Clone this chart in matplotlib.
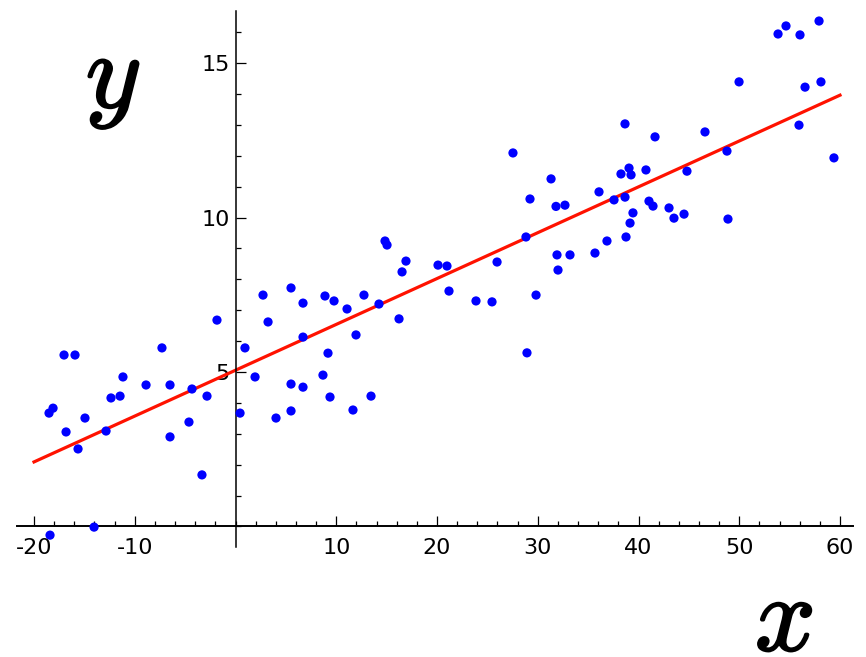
import numpy as np
import matplotlib
matplotlib.use("Agg")
import matplotlib.pyplot as plt
import matplotlib.patheffects as pe
from matplotlib.ticker import MultipleLocator, FixedLocator

plt.rcParams['axes.unicode_minus'] = False
plt.rcParams['mathtext.fontset'] = 'cm'

# scatter data
x_pts = [-18.51, -18.11, -17.02, -15.93, -16.82, -15.63, -14.94, -18.41, -14.04, -12.85,
         -12.36, -11.46, -11.17, -8.88, -7.30, -6.50, -6.50, -4.62, -4.32, -3.33,
         -2.83, -1.84, 0.45, 0.94, 1.94, 2.73, 3.23, 4.02, 5.51, 5.51,
         5.51, 6.70, 6.70, 6.70, 8.68, 8.88, 9.38, 9.18, 9.78, 11.07,
         11.66, 11.96, 12.75, 13.45, 14.24, 14.84, 15.04, 16.23, 16.53, 16.92,
         20.10, 20.99, 21.19, 23.87, 25.46, 25.96, 27.54, 28.83, 28.93, 29.23,
         29.83, 31.32, 31.91, 32.01, 31.81, 32.70, 33.20, 35.68, 36.08, 36.87,
         37.57, 38.26, 38.66, 38.66, 38.76, 39.06, 39.26, 39.16, 39.45, 40.74,
         41.04, 41.44, 41.64, 43.03, 43.52, 44.52, 44.81, 46.60, 48.78, 48.88,
         49.98, 53.85, 54.64, 56.03, 56.53, 57.92, 58.11, 55.93, 59.40]
y_pts = [3.67, 3.83, 5.55, 5.55, 3.06, 2.51, 3.51, -0.28, -0.02, 3.09,
         4.16, 4.22, 4.84, 4.58, 5.78, 4.58, 2.90, 3.38, 4.45, 1.67,
         4.22, 6.68, 3.67, 5.78, 4.84, 7.49, 6.62, 3.51, 7.72, 4.61,
         3.74, 7.23, 6.13, 4.51, 4.90, 7.46, 4.19, 5.61, 7.30, 7.04,
         3.77, 6.20, 7.49, 4.22, 7.20, 9.24, 9.11, 6.72, 8.24, 8.59,
         8.46, 8.43, 7.62, 7.30, 7.27, 8.56, 12.09, 9.37, 5.62, 10.60,
         7.49, 11.25, 8.79, 8.30, 10.36, 10.40, 8.79, 8.85, 10.83, 9.24,
         10.57, 11.41, 13.03, 10.66, 9.37, 11.60, 11.38, 9.82, 10.15, 11.54,
         10.53, 10.37, 12.61, 10.31, 9.98, 10.11, 11.50, 12.77, 12.15, 9.95,
         14.39, 15.94, 16.20, 15.91, 14.22, 16.36, 14.39, 12.99, 11.93]

# fitted line end points
line_x = [-20, 60]
line_y = [2.09, 13.96]

x_ticks = [-20, -10, 10, 20, 30, 40, 50, 60]
y_ticks = [5, 10, 15]

fig = plt.figure(figsize=(8.66, 6.57), dpi=100)
ax = fig.add_axes([0.0195, 0.1676, 0.9656, 0.8164])

ax.plot(line_x, line_y, color='#ff1200', lw=2.3, zorder=2)
ax.scatter(x_pts, y_pts, s=44, color='#0000ff', edgecolors='none', zorder=3, clip_on=False)

ax.set_xlim(-21.7, 61.3)
ax.set_ylim(-0.66, 16.7)

# axes through the origin
ax.spines['left'].set_position(('data', 0))
ax.spines['bottom'].set_position(('data', 0))
ax.spines['top'].set_visible(False)
ax.spines['right'].set_visible(False)
ax.spines['left'].set_linewidth(1.1)
ax.spines['bottom'].set_linewidth(1.4)

ax.xaxis.set_major_locator(FixedLocator(x_ticks))
ax.yaxis.set_major_locator(FixedLocator(y_ticks))
ax.xaxis.set_minor_locator(MultipleLocator(2))
ax.yaxis.set_minor_locator(MultipleLocator(1))
ax.tick_params(which='major', direction='in', length=7, width=0.9, labelsize=16)
ax.tick_params(which='minor', direction='in', length=3.6, width=0.9)
ax.tick_params(axis='x', which='major', pad=8)
ax.tick_params(axis='y', which='major', pad=4)

# big axis letters
stroke = [pe.withStroke(linewidth=1.6, foreground='black')]
fig.text(113 / 866, 1 - 80 / 657, '$y$', fontsize=77, ha='center', va='center',
         path_effects=stroke)
fig.text(784 / 866, 1 - 651 / 657, '$x$', fontsize=77, ha='center', va='baseline',
         path_effects=stroke)

fig.savefig('out.png', dpi=100)
